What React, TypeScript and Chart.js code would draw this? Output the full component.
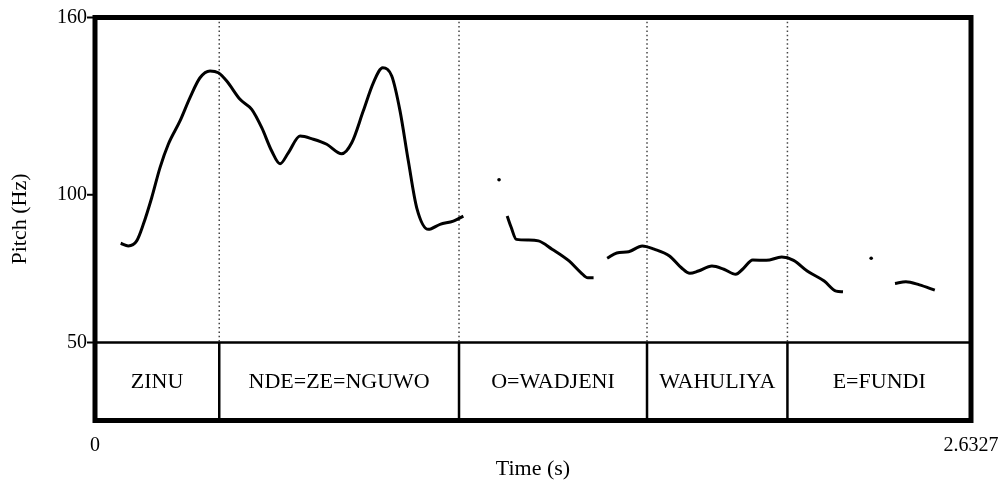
import React, { useEffect, useRef } from "react";
import { Chart, registerables } from "chart.js";

Chart.register(...registerables);

// ---- data ----
// Pitch contour (time in s, pitch in Hz); null marks an unvoiced gap
const pitchTimes: number[] = [
  0.0772, 0.1001, 0.1253, 0.1452, 0.1704, 0.1954, 0.2203, 0.2555, 0.2855, 0.3156,
  0.3457, 0.3706, 0.3959, 0.4358, 0.471, 0.5011, 0.5311, 0.5561, 0.581, 0.6162,
  0.6562, 0.6964, 0.7415, 0.7716, 0.8064, 0.8365, 0.8647, 0.8918, 0.9167, 0.9417,
  0.9669, 1.0018, 1.037, 1.077, 1.107,
  1.17,
  1.2387, 1.251, 1.2663, 1.3021, 1.3327, 1.3736, 1.4247, 1.4608, 1.4812, 1.4984,
  1.52,
  1.5392, 1.5681, 1.6039, 1.6447, 1.6805, 1.7265, 1.7623, 1.7878, 1.8134, 1.8542,
  1.89, 1.9258, 1.9462, 1.9769, 2.0177, 2.0637, 2.0995, 2.1404, 2.1915, 2.2275, 2.248,
  2.33,
  2.4043, 2.4371, 2.4779, 2.5239,
];
const pitchHz: (number | null)[] = [
  83.6, 82.7, 84.4, 90.0, 99.0, 109.2, 117.1, 125.0, 132.9, 139.6,
  141.9, 141.3, 138.5, 132.3, 128.9, 122.7, 114.8, 110.5, 114.2, 119.9,
  118.8, 117.1, 113.9, 117.6, 128.4, 137.9, 143.0, 140.2, 128.4, 111.4,
  95.6, 88.3, 90.0, 91.1, 92.8,
  null,
  92.8, 88.9, 84.9, 84.7, 84.4, 81.6, 77.6, 73.6, 71.9, 71.9,
  null,
  78.5, 80.3, 80.7, 82.7, 81.6, 79.3, 75.3, 73.4, 74.2, 75.9,
  74.8, 73.1, 74.8, 77.9, 77.8, 78.9, 77.8, 74.2, 70.8, 67.4, 67.2,
  null,
  70.0, 70.6, 69.5, 67.7,
];
// Isolated voiced frames
const dotTimes: number[] = [1.2143, 2.3327];
const dotHz: number[] = [105.1, 78.5];

// Text tier
const tierBounds: number[] = [0, 0.3734, 1.094, 1.659, 2.081, 2.6327];
const tierLabels: string[] = ["ZINU", "NDE=ZE=NGUWO", "O=WADJENI", "WAHULIYA", "E=FUNDI"];

// Axes
const yTickValues: number[] = [50, 100, 160];
const xTickValues: number[] = [0, 2.6327];
const xTickLabels: string[] = ["0", "2.6327"];
const yMin = 23.6;
const yMax = 160;
const tierLineHz = 50;

const FONT = '"Liberation Serif", "Times New Roman", serif';

const praatPlugin = {
  id: "praatFrame",
  beforeDatasetsDraw(chart: any) {
    const { ctx, chartArea, scales } = chart;
    const y50 = scales.y.getPixelForValue(tierLineHz);
    ctx.save();
    ctx.strokeStyle = "#444";
    ctx.lineWidth = 1.5;
    ctx.setLineDash([1.5, 2.8]);
    for (let i = 1; i < tierBounds.length - 1; i++) {
      const x = scales.x.getPixelForValue(tierBounds[i]);
      ctx.beginPath();
      ctx.moveTo(x, chartArea.top);
      ctx.lineTo(x, y50);
      ctx.stroke();
    }
    ctx.restore();
  },
  afterDatasetsDraw(chart: any) {
    const { ctx, chartArea, scales } = chart;
    const { left, right, top, bottom } = chartArea;
    const y50 = scales.y.getPixelForValue(tierLineHz);
    ctx.save();
    ctx.strokeStyle = "#000";
    ctx.setLineDash([]);
    // tier separator
    ctx.lineWidth = 2.5;
    ctx.beginPath();
    ctx.moveTo(left, y50);
    ctx.lineTo(right, y50);
    ctx.stroke();
    // tier boundaries
    for (let i = 1; i < tierBounds.length - 1; i++) {
      const x = scales.x.getPixelForValue(tierBounds[i]);
      ctx.beginPath();
      ctx.moveTo(x, y50);
      ctx.lineTo(x, bottom);
      ctx.stroke();
    }
    // y tick marks
    ctx.lineWidth = 2;
    for (const v of yTickValues) {
      const y = scales.y.getPixelForValue(v);
      ctx.beginPath();
      ctx.moveTo(left - 8, y);
      ctx.lineTo(left, y);
      ctx.stroke();
    }
    // outer frame
    ctx.lineWidth = 5;
    ctx.strokeRect(left, top, right - left, bottom - top);
    // tier labels
    ctx.fillStyle = "#000";
    ctx.font = `22px ${FONT}`;
    ctx.textAlign = "center";
    ctx.textBaseline = "middle";
    const ty = (y50 + bottom) / 2 + 1;
    for (let i = 0; i < tierLabels.length; i++) {
      const x0 = scales.x.getPixelForValue(tierBounds[i]);
      const x1 = scales.x.getPixelForValue(tierBounds[i + 1]);
      ctx.fillText(tierLabels[i], (x0 + x1) / 2, ty);
    }
    ctx.restore();
  },
};

export default function App() {
  const canvasRef = useRef<HTMLCanvasElement | null>(null);

  useEffect(() => {
    if (!canvasRef.current) return;
    const lineData = pitchTimes.map((t, i) => ({ x: t, y: pitchHz[i] }));
    const dotData = dotTimes.map((t, i) => ({ x: t, y: dotHz[i] }));
    const chart = new Chart(canvasRef.current, {
      type: "scatter",
      data: {
        datasets: [
          {
            label: "Pitch",
            data: lineData as any,
            showLine: true,
            spanGaps: false,
            borderColor: "#000",
            backgroundColor: "#000",
            borderWidth: 3,
            pointRadius: 0,
            cubicInterpolationMode: "monotone",
          } as any,
          {
            label: "Isolated",
            data: dotData,
            showLine: false,
            borderColor: "#000",
            backgroundColor: "#000",
            pointRadius: 1.8,
            pointBorderWidth: 0,
          },
        ],
      },
      options: {
        animation: false,
        responsive: true,
        maintainAspectRatio: false,
        layout: { padding: { left: 0, top: 17.5, right: 28, bottom: 0 } },
        plugins: {
          legend: { display: false },
          tooltip: { enabled: false },
        },
        scales: {
          x: {
            type: "linear",
            min: 0,
            max: xTickValues[xTickValues.length - 1],
            afterBuildTicks: (s: any) => {
              s.ticks = xTickValues.map((v) => ({ value: v }));
            },
            afterFit: (s: any) => {
              s.height = 61.5;
              s.paddingLeft = 0;
              s.paddingRight = 0;
            },
            grid: { display: false, drawTicks: false },
            border: { display: false },
            ticks: {
              color: "#000",
              font: { family: FONT, size: 20 },
              padding: 13,
              maxRotation: 0,
              autoSkip: false,
              callback: (v: any) => {
                const i = xTickValues.indexOf(Number(v));
                return i >= 0 ? xTickLabels[i] : "";
              },
            },
            title: {
              display: true,
              text: "Time (s)",
              color: "#000",
              font: { family: FONT, size: 22 },
              padding: { top: 0, bottom: 0 },
            },
          },
          y: {
            type: "linear",
            min: yMin,
            max: yMax,
            afterBuildTicks: (s: any) => {
              s.ticks = yTickValues.map((v) => ({ value: v }));
            },
            afterFit: (s: any) => {
              s.width = 95;
              s.paddingTop = 0;
              s.paddingBottom = 0;
            },
            grid: { display: false, drawTicks: false },
            border: { display: false },
            ticks: {
              color: "#000",
              font: { family: FONT, size: 20 },
              padding: 8,
              autoSkip: false,
              callback: (v: any) => String(v),
            },
            title: {
              display: true,
              text: "Pitch (Hz)",
              color: "#000",
              font: { family: FONT, size: 22 },
              padding: { top: 7, bottom: 0 },
            },
          },
        },
      },
      plugins: [praatPlugin],
    });
    return () => chart.destroy();
  }, []);

  return (
    <div style={{ position: "fixed", left: 0, top: 0, width: 999, height: 482, background: "#fff" }}>
      <canvas ref={canvasRef} />
    </div>
  );
}
